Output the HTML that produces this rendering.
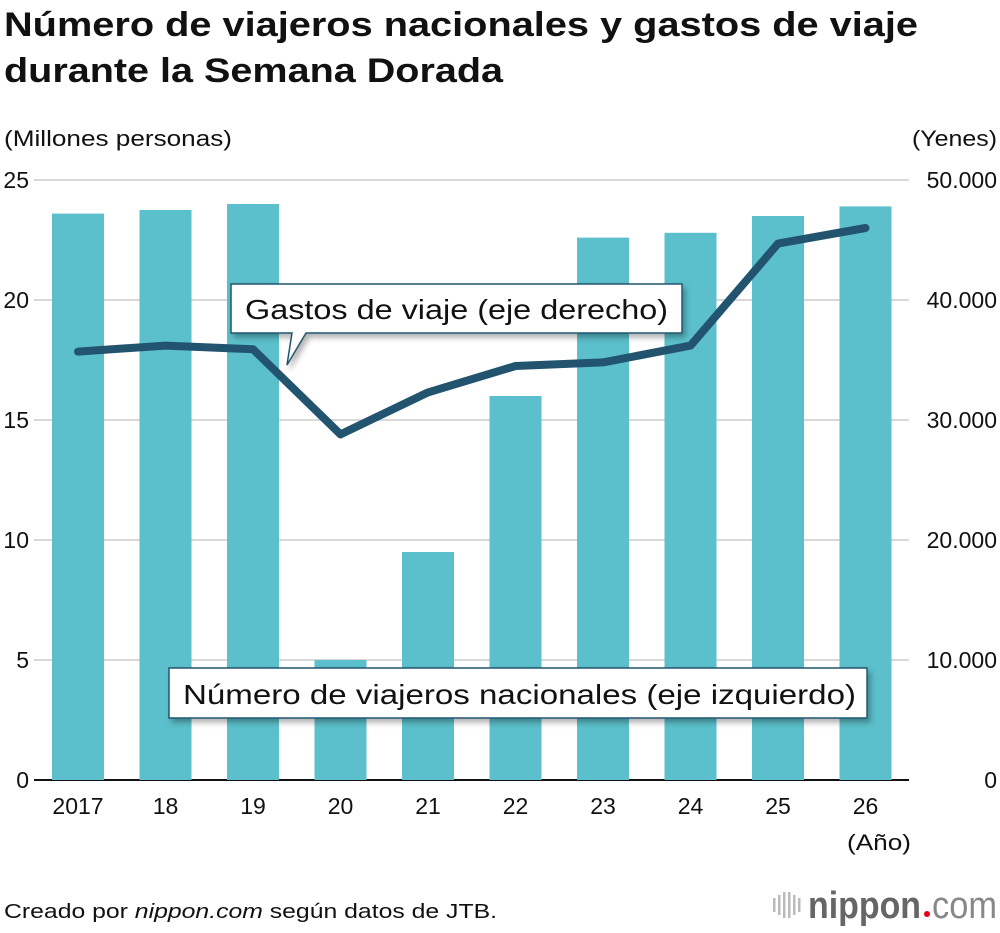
<!DOCTYPE html>
<html><head><meta charset="utf-8"><style>
body{margin:0;background:#fff;font-family:"Liberation Sans",Arial,sans-serif}
svg text{font-family:"Liberation Sans",Arial,sans-serif}
</style></head><body>
<svg id="c" width="1000" height="928" xmlns="http://www.w3.org/2000/svg">
<defs><filter id="sh" x="-10%" y="-20%" width="130%" height="160%"><feDropShadow dx="3" dy="4" stdDeviation="3" flood-color="#000" flood-opacity="0.3"/></filter></defs>
<text x="4" y="36" font-size="34" font-weight="bold" fill="#111" textLength="914" lengthAdjust="spacingAndGlyphs">Número de viajeros nacionales y gastos de viaje</text>
<text x="4" y="82" font-size="34" font-weight="bold" fill="#111" textLength="499" lengthAdjust="spacingAndGlyphs">durante la Semana Dorada</text>
<text x="4" y="146" font-size="22" fill="#111" textLength="228" lengthAdjust="spacingAndGlyphs">(Millones personas)</text>
<text x="912" y="146" font-size="22" fill="#111" textLength="85" lengthAdjust="spacingAndGlyphs">(Yenes)</text>
<g id="grid"></g><g id="bars"></g><g id="line"></g><g id="ticks"></g>
<g filter="url(#sh)">
<path d="M231,284 H682 V333 H306 L287,365 L292,333 H231 Z" fill="#fff" stroke="#22546f" stroke-width="1.5"/>
</g>
<text x="245" y="319" font-size="28" fill="#111" textLength="423" lengthAdjust="spacingAndGlyphs">Gastos de viaje (eje derecho)</text>
<g filter="url(#sh)">
<rect x="169" y="668" width="698" height="50" fill="#fff" stroke="#22546f" stroke-width="1.5"/>
</g>
<text x="183" y="704" font-size="28" fill="#111" textLength="673" lengthAdjust="spacingAndGlyphs">Número de viajeros nacionales (eje izquierdo)</text>
<text x="847" y="850" font-size="22" fill="#111" textLength="64" lengthAdjust="spacingAndGlyphs">(Año)</text>
<text x="4" y="918" font-size="20" fill="#111" textLength="493" lengthAdjust="spacingAndGlyphs">Creado por <tspan font-style="italic">nippon.com</tspan> según datos de JTB.</text>
<g>
<g fill="#bbb"><rect x="773" y="898" width="2.5" height="14"/><rect x="778" y="895" width="2.5" height="20"/><rect x="783" y="892" width="2.5" height="26"/><rect x="788" y="892" width="2.5" height="26"/><rect x="793" y="895" width="2.5" height="20"/><rect x="798" y="898" width="2.5" height="14"/></g>
<text x="808" y="918" font-size="38" font-weight="bold" fill="#666" textLength="113" lengthAdjust="spacingAndGlyphs">nippon</text>
<circle cx="927" cy="914" r="3" fill="#e60012"/>
<text x="932" y="918" font-size="38" fill="#888" textLength="65" lengthAdjust="spacingAndGlyphs">com</text>
</g>
</svg>
<script>
const years=["2017","18","19","20","21","22","23","24","25","26"];
const travelers=[23.6,23.75,24.0,5.0,9.5,16.0,22.6,22.8,23.5,23.9];
const spending=[35700,36200,35900,28800,32300,34500,34800,36200,44700,46000];
const leftTicks=[0,5,10,15,20,25];
const rightTickLabels=["0","10.000","20.000","30.000","40.000","50.000"];
const rightTicks=[0,10000,20000,30000,40000,50000];
const NS="http://www.w3.org/2000/svg";
const y0=780,yTop=180;
const yL=v=>y0-(v/25)*(y0-yTop);
const yR=v=>y0-(v/50000)*(y0-yTop);
const xC=i=>78+i*87.5;
function mk(tag,attrs,parent,txt){const e=document.createElementNS(NS,tag);for(const k in attrs)e.setAttribute(k,attrs[k]);if(txt!==undefined)e.textContent=txt;document.getElementById(parent).appendChild(e);return e;}
leftTicks.forEach((t,i)=>{
  const g=mk("line",{x1:34,x2:909,y1:yL(t),y2:yL(t),stroke:t===0?"#111":"#ccc","stroke-width":t===0?2:1.5},"grid");
  
  
  const a=mk("text",{x:29,y:yL(t)+8,"font-size":23,"text-anchor":"end",fill:"#111"},"ticks",String(t));
  
  
});
rightTicks.forEach((t,i)=>{
  const a=mk("text",{x:997,y:yR(t)+8,"font-size":23,"text-anchor":"end",fill:"#111"},"ticks",rightTickLabels[i]);
  
  
});
years.forEach((y,i)=>{
  const r=mk("rect",{x:xC(i)-26,y:yL(travelers[i]),width:52,height:y0-yL(travelers[i]),fill:"#5bc0cb"},"bars");
  
  
  const t=mk("text",{x:xC(i),y:814,"font-size":23,"text-anchor":"middle",fill:"#111"},"ticks",y);
  
  
});
const p=mk("polyline",{points:spending.map((v,i)=>xC(i)+","+yR(v)).join(" "),fill:"none",stroke:"#22546f","stroke-width":8,"stroke-linejoin":"round","stroke-linecap":"round"},"line");


</script>
</body></html>
